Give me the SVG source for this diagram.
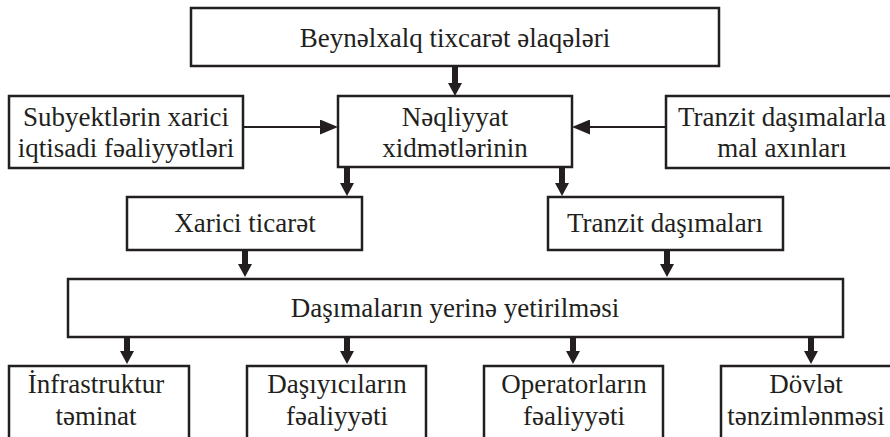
<svg xmlns="http://www.w3.org/2000/svg" width="890" height="437" viewBox="0 0 890 437">
<defs>
<style>
.box{fill:#fff;stroke:#231f20;stroke-width:2.5}
.t{font-family:"Liberation Serif","Times New Roman",serif;font-size:27px;fill:#231f20;text-anchor:middle}
.thick{stroke:#231f20;stroke-width:6;fill:none}
.thin{stroke:#231f20;stroke-width:2;fill:none}
</style>
<marker id="hd" viewBox="0 0 13 14" refX="1" refY="7" markerWidth="13" markerHeight="14" markerUnits="userSpaceOnUse" orient="auto">
<path d="M0,0 L13,7 L0,14 z" fill="#231f20"/>
</marker>
<marker id="hs" viewBox="0 0 18 15" refX="1" refY="7.5" markerWidth="18" markerHeight="15" markerUnits="userSpaceOnUse" orient="auto">
<path d="M0,0 L18,7.5 L0,15 z" fill="#231f20"/>
</marker>
</defs>
<rect width="890" height="437" fill="#fff"/>
<g id="connectors">
<line class="thick" x1="455" y1="66" x2="455" y2="84" marker-end="url(#hd)"/>
<line class="thin" x1="243" y1="127" x2="321" y2="127" marker-end="url(#hs)"/>
<line class="thin" x1="666" y1="127" x2="589" y2="127" marker-end="url(#hs)"/>
<line class="thick" x1="347" y1="167" x2="347" y2="184" marker-end="url(#hd)"/>
<line class="thick" x1="562" y1="167" x2="562" y2="184" marker-end="url(#hd)"/>
<line class="thick" x1="245" y1="250" x2="245" y2="265" marker-end="url(#hd)"/>
<line class="thick" x1="667" y1="250" x2="667" y2="265" marker-end="url(#hd)"/>
<line class="thick" x1="127" y1="337" x2="127" y2="352" marker-end="url(#hd)"/>
<line class="thick" x1="347" y1="337" x2="347" y2="352" marker-end="url(#hd)"/>
<line class="thick" x1="573" y1="337" x2="573" y2="352" marker-end="url(#hd)"/>
<line class="thick" x1="811" y1="337" x2="811" y2="352" marker-end="url(#hd)"/>
</g>
<g id="n-beynelxalq">
<rect class="box" x="191" y="8" width="528" height="58"/>
<text class="t" x="455" y="47">Beynəlxalq tixcarət əlaqələri</text>
</g>
<g id="n-subyekt">
<rect class="box" x="9" y="96" width="234" height="72"/>
<text class="t" x="126" y="126">Subyektlərin xarici</text>
<text class="t" x="126" y="157">iqtisadi fəaliyyətləri</text>
</g>
<g id="n-neqliyyat">
<rect class="box" x="338" y="96" width="234" height="71"/>
<text class="t" x="455" y="126">Nəqliyyat</text>
<text class="t" x="455" y="157">xidmətlərinin</text>
</g>
<g id="n-tranzit-mal">
<rect class="box" x="666" y="96" width="240" height="72"/>
<text class="t" x="782" y="126">Tranzit daşımalarla</text>
<text class="t" x="782" y="157">mal axınları</text>
</g>
<g id="n-xarici">
<rect class="box" x="127" y="197" width="235" height="53"/>
<text class="t" x="245" y="232">Xarici ticarət</text>
</g>
<g id="n-tranzit">
<rect class="box" x="548" y="197" width="235" height="53"/>
<text class="t" x="665" y="232">Tranzit daşımaları</text>
</g>
<g id="n-dasimalarin">
<rect class="box" x="68" y="279" width="775" height="58"/>
<text class="t" x="455" y="317">Daşımaların yerinə yetirilməsi</text>
</g>
<g id="n-infra">
<rect class="box" x="9" y="366" width="180" height="90"/>
<text class="t" x="96" y="393">İnfrastruktur</text>
<text class="t" x="96" y="425">təminat</text>
</g>
<g id="n-dasiyici">
<rect class="box" x="247" y="366" width="179" height="90"/>
<text class="t" x="337" y="393">Daşıyıcıların</text>
<text class="t" x="337" y="425">fəaliyyəti</text>
</g>
<g id="n-operator">
<rect class="box" x="484" y="366" width="179" height="90"/>
<text class="t" x="574" y="393">Operatorların</text>
<text class="t" x="574" y="425">fəaliyyəti</text>
</g>
<g id="n-dovlet">
<rect class="box" x="721" y="366" width="190" height="90"/>
<text class="t" x="806" y="393">Dövlət</text>
<text class="t" x="806" y="425">tənzimlənməsi</text>
</g>
</svg>
